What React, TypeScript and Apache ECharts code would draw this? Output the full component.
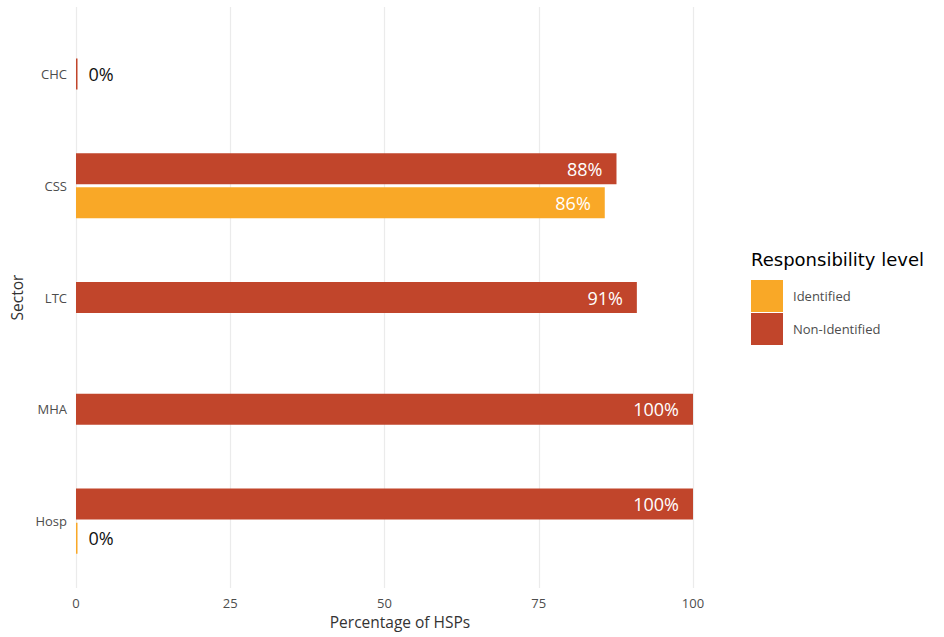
import React, { useEffect, useRef } from "react";
import * as echarts from "echarts";

const categories = ["CHC", "CSS", "LTC", "MHA", "Hosp"];
const nonIdentified: (number | null)[] = [0, 87.6, 90.9, 100, 100];
const identified: (number | null)[] = [null, 85.7, null, null, 0];
const xTicks = [0, 25, 50, 75, 100];
const seriesNames = ["Identified", "Non-Identified"];
const colors: Record<string, string> = {
  Identified: "#F9A827",
  "Non-Identified": "#C1452B",
};

const FONT = "'Open Sans', 'Noto Sans', sans-serif";

const pct = (p: any) => `${Math.round(p.value)}%`;

function labelFor(v: number | null) {
  if (v === null) return {};
  if (v === 0) {
    return {
      show: true,
      position: "right",
      distance: 11,
      color: "#111111",
      fontSize: 18,
      fontFamily: FONT,
      formatter: pct,
    };
  }
  return {
    show: true,
    position: "insideRight",
    distance: 14,
    color: "#ffffff",
    fontSize: 18,
    fontFamily: FONT,
    formatter: pct,
  };
}

function toData(arr: (number | null)[], mask: boolean[]) {
  return arr.map((v, i) =>
    mask[i] && v !== null ? { value: v, label: labelFor(v) } : null
  );
}

export default function App() {
  const ref = useRef<HTMLDivElement>(null);

  useEffect(() => {
    if (!ref.current) return;
    const chart = echarts.init(ref.current, undefined, { renderer: "svg" });

    const both = categories.map(
      (_, i) => nonIdentified[i] !== null && identified[i] !== null
    );
    const single = both.map((b) => !b);

    const barCommon = {
      type: "bar",
      barWidth: 31,
      barGap: "10%",
      barMinHeight: 1.5,
      xAxisIndex: 1,
    };

    const groups = [
      { axis: 1, mask: single },
      { axis: 2, mask: both },
    ];
    const seriesDefs = [
      { name: "Non-Identified", values: nonIdentified },
      { name: "Identified", values: identified },
    ];
    const series: any[] = [];
    groups.forEach((g) => {
      seriesDefs.forEach((s) => {
        const data = toData(s.values, g.mask);
        if (data.some((d) => d !== null)) {
          series.push({
            ...barCommon,
            name: s.name,
            yAxisIndex: g.axis,
            itemStyle: { color: colors[s.name] },
            data,
          });
        }
      });
    });

    chart.setOption({
      animation: false,
      backgroundColor: "#ffffff",
      legend: {
        data: seriesNames,
        orient: "vertical",
        left: 751,
        top: 280,
        padding: 0,
        itemWidth: 32,
        itemHeight: 32,
        itemGap: 1,
        icon: "rect",
        textStyle: {
          fontFamily: FONT,
          fontSize: 13,
          color: "#4D4D4D",
          padding: [0, 0, 0, 5],
        },
      },
      graphic: [
        {
          type: "text",
          left: 751,
          top: 250,
          style: {
            text: "Responsibility level",
            fontFamily: "'DejaVu Sans', sans-serif",
            fontSize: 18,
            fill: "#000000",
          },
        },
      ],
      grid: [
        { left: 76, width: 617, top: 7, height: 581, containLabel: false },
        { left: 76, width: 617, top: 18, height: 559, containLabel: false },
      ],
      xAxis: [
        {
          type: "value",
          gridIndex: 0,
          min: 0,
          max: 100,
          interval: 25,
          axisLine: { show: false },
          axisTick: { show: false },
          splitLine: { show: true, lineStyle: { color: "#EBEBEB", width: 1.2 } },
          axisLabel: {
            margin: 8,
            fontFamily: FONT,
            fontSize: 13,
            color: "#4D4D4D",
            formatter: (v: number) => (xTicks.includes(v) ? String(v) : ""),
          },
          name: "Percentage of HSPs",
          nameLocation: "middle",
          nameGap: 26,
          nameTextStyle: {
            fontFamily: FONT,
            fontSize: 15.5,
            color: "#333333",
            padding: [0, 0, 0, 31],
          },
        },
        {
          type: "value",
          gridIndex: 1,
          min: 0,
          max: 100,
          show: false,
        },
      ],
      yAxis: [
        {
          type: "value",
          gridIndex: 0,
          show: false,
          splitLine: { show: false },
        },
        {
          type: "category",
          gridIndex: 1,
          data: categories,
          inverse: true,
          axisLine: { show: false },
          axisTick: { show: false },
          splitLine: { show: false },
          axisLabel: {
            margin: 9,
            fontFamily: FONT,
            fontSize: 13,
            color: "#4D4D4D",
          },
          name: "Sector",
          nameLocation: "middle",
          nameRotate: 90,
          nameGap: 46,
          nameTextStyle: {
            fontFamily: FONT,
            fontSize: 15.5,
            color: "#333333",
          },
        },
        {
          type: "category",
          gridIndex: 1,
          data: categories,
          inverse: true,
          show: false,
        },
      ],
      series,
    });

    return () => chart.dispose();
  }, []);

  return (
    <div
      ref={ref}
      style={{ position: "fixed", left: 0, top: 0, width: 944, height: 637 }}
    />
  );
}
